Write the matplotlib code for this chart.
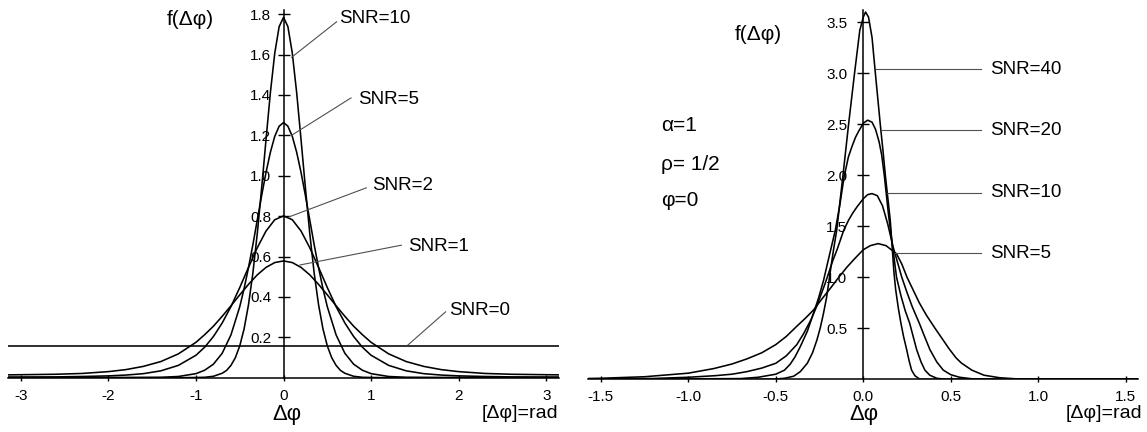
import numpy as np
import matplotlib.pyplot as plt

plt.rcParams["font.family"] = ["Liberation Sans", "DejaVu Sans"]

# ---- left panel: f(dphi) for several SNR values ----
x_snr10 = [-3.14, -1.2, -1.0, -0.9, -0.8, -0.7, -0.65, -0.6, -0.55, -0.5,
           -0.45, -0.4, -0.35, -0.3, -0.25, -0.2, -0.15, -0.1, -0.05, 0.0,
           0.05, 0.1, 0.15, 0.2, 0.25, 0.3, 0.35, 0.4, 0.45, 0.5,
           0.55, 0.6, 0.65, 0.7, 0.8, 0.9, 1.0, 1.2, 3.14]
f_snr10 = [0.0, 0.0, 0.001, 0.002, 0.007, 0.022, 0.036, 0.061, 0.099, 0.157,
           0.242, 0.361, 0.517, 0.712, 0.938, 1.178, 1.411, 1.607, 1.738, 1.784,
           1.738, 1.607, 1.411, 1.178, 0.938, 0.712, 0.517, 0.361, 0.242, 0.157,
           0.099, 0.061, 0.036, 0.022, 0.007, 0.002, 0.001, 0.0, 0.0]

x_snr5 = [-3.14, -1.8, -1.4, -1.2, -1.0, -0.9, -0.8, -0.7, -0.6, -0.5,
          -0.45, -0.4, -0.35, -0.3, -0.25, -0.2, -0.15, -0.1, -0.05, 0.0,
          0.05, 0.1, 0.15, 0.2, 0.25, 0.3, 0.35, 0.4, 0.45, 0.5,
          0.6, 0.7, 0.8, 0.9, 1.0, 1.2, 1.4, 1.8, 3.14]
f_snr5 = [0.001, 0.001, 0.002, 0.006, 0.020, 0.037, 0.067, 0.121, 0.212, 0.351,
          0.441, 0.545, 0.658, 0.780, 0.901, 1.016, 1.116, 1.195, 1.245, 1.263,
          1.245, 1.195, 1.116, 1.016, 0.901, 0.780, 0.658, 0.545, 0.441, 0.351,
          0.212, 0.121, 0.067, 0.037, 0.020, 0.006, 0.002, 0.001, 0.001]

x_wide = [-3.14, -2.6, -2.3, -2.0, -1.8, -1.6, -1.4, -1.2, -1.0, -0.9,
          -0.8, -0.7, -0.6, -0.5, -0.4, -0.3, -0.2, -0.1, 0.0,
          0.1, 0.2, 0.3, 0.4, 0.5, 0.6, 0.7, 0.8, 0.9, 1.0,
          1.2, 1.4, 1.6, 1.8, 2.0, 2.3, 2.6, 3.14]
f_snr2 = [0.003, 0.004, 0.006, 0.009, 0.013, 0.020, 0.034, 0.061, 0.111, 0.151,
          0.204, 0.271, 0.352, 0.446, 0.546, 0.643, 0.726, 0.782, 0.801,
          0.782, 0.726, 0.643, 0.546, 0.446, 0.352, 0.271, 0.204, 0.151, 0.111,
          0.061, 0.034, 0.020, 0.013, 0.009, 0.006, 0.004, 0.003]
f_snr1 = [0.014, 0.017, 0.021, 0.030, 0.040, 0.056, 0.080, 0.118, 0.175, 0.213,
          0.255, 0.304, 0.356, 0.410, 0.462, 0.509, 0.546, 0.570, 0.578,
          0.570, 0.546, 0.509, 0.462, 0.410, 0.356, 0.304, 0.255, 0.213, 0.175,
          0.118, 0.080, 0.056, 0.040, 0.030, 0.021, 0.017, 0.014]
f_snr0 = 0.159

left_labels = ["SNR=10", "SNR=5", "SNR=2", "SNR=1", "SNR=0"]
left_label_xy = [(0.64, 1.78), (0.85, 1.375), (1.01, 0.95), (1.42, 0.648), (1.89, 0.334)]
left_leader_from = [(0.092, 1.586), (0.092, 1.20), (0.063, 0.796), (0.187, 0.558), (1.42, 0.162)]
left_leader_to = [(0.606, 1.762), (0.77, 1.385), (0.945, 0.94), (1.345, 0.656), (1.85, 0.326)]

# ---- right panel: alpha=1, rho=1/2, phi=0 ----
x_r40 = [-1.57, -0.6, -0.5, -0.45, -0.398, -0.36, -0.32, -0.29, -0.265, -0.245,
         -0.227, -0.21, -0.198, -0.185, -0.17, -0.152, -0.116, -0.084, -0.05, -0.02,
         0.0, 0.013, 0.03, 0.05, 0.069, 0.083, 0.097, 0.112, 0.126, 0.14,
         0.154, 0.165, 0.175, 0.185, 0.2, 0.215, 0.23, 0.248, 0.262, 0.276,
         0.295, 0.324, 1.57]
f_r40 = [0.0, 0.0, 0.003, 0.01, 0.03, 0.075, 0.157, 0.26, 0.385, 0.51,
         0.65, 0.8, 0.94, 1.1, 1.27, 1.46, 2.0, 2.5, 3.0, 3.42,
         3.55, 3.6, 3.55, 3.35, 3.0, 2.75, 2.5, 2.25, 2.0, 1.78,
         1.56, 1.3, 1.05, 0.88, 0.7, 0.55, 0.42, 0.29, 0.18, 0.09,
         0.035, 0.0, 0.0]

x_r20 = [-1.57, -0.7, -0.6, -0.5, -0.45, -0.417, -0.39, -0.36, -0.32, -0.284,
         -0.255, -0.227, -0.2, -0.16, -0.135, -0.11, -0.085, -0.065, -0.045, -0.027,
         0.0, 0.025, 0.05, 0.07, 0.09, 0.105, 0.12, 0.145, 0.17, 0.19,
         0.215, 0.24, 0.265, 0.285, 0.305, 0.33, 0.352, 0.38, 0.42, 0.47, 1.57]
f_r20 = [0.0, 0.007, 0.02, 0.05, 0.09, 0.15, 0.22, 0.32, 0.47, 0.65,
         0.8, 0.97, 1.17, 1.46, 1.7, 1.98, 2.18, 2.28, 2.37, 2.43,
         2.51, 2.54, 2.52, 2.45, 2.33, 2.2, 2.0, 1.6, 1.27, 1.0,
         0.82, 0.67, 0.55, 0.42, 0.29, 0.17, 0.09, 0.04, 0.01, 0.0, 0.0]

x_r10 = [-1.57, -1.2, -1.0, -0.85, -0.75, -0.665, -0.58, -0.5, -0.44, -0.38,
         -0.34, -0.3, -0.27, -0.246, -0.22, -0.198, -0.175, -0.15, -0.13, -0.112,
         -0.084, -0.06, -0.036, 0.0, 0.025, 0.05, 0.08, 0.11, 0.14, 0.17,
         0.2, 0.22, 0.25, 0.28, 0.32, 0.35, 0.381, 0.42, 0.457, 0.5,
         0.55, 0.62, 0.7, 1.57]
f_r10 = [0.002, 0.008, 0.02, 0.035, 0.05, 0.075, 0.11, 0.157, 0.23, 0.34,
         0.45, 0.58, 0.7, 0.81, 0.93, 1.04, 1.16, 1.27, 1.37, 1.46,
         1.56, 1.63, 1.69, 1.77, 1.81, 1.82, 1.8, 1.7, 1.52, 1.3,
         1.12, 1.0, 0.85, 0.71, 0.55, 0.42, 0.29, 0.17, 0.09, 0.045,
         0.02, 0.005, 0.0, 0.0]

x_r5 = [-1.57, -1.5, -1.25, -1.0, -0.855, -0.75, -0.665, -0.58, -0.5, -0.44,
        -0.38, -0.33, -0.284, -0.24, -0.189, -0.14, -0.093, -0.045, 0.0, 0.04,
        0.085, 0.13, 0.19, 0.22, 0.25, 0.32, 0.36, 0.41, 0.45, 0.49,
        0.53, 0.56, 0.62, 0.69, 0.78, 0.87, 0.95, 1.57]
f_r5 = [0.008, 0.01, 0.025, 0.06, 0.105, 0.15, 0.2, 0.26, 0.34, 0.42,
        0.52, 0.6, 0.68, 0.78, 0.89, 1.0, 1.1, 1.19, 1.27, 1.31,
        1.33, 1.31, 1.23, 1.13, 1.0, 0.75, 0.63, 0.5, 0.4, 0.3,
        0.21, 0.16, 0.09, 0.04, 0.015, 0.005, 0.0, 0.0]

right_labels = ["SNR=40", "SNR=20", "SNR=10", "SNR=5"]
right_leader_y = [3.04, 2.44, 1.83, 1.235]
right_leader_x0 = [0.073, 0.10, 0.135, 0.18]
right_leader_x1 = 0.67
right_label_x = 0.725


def setup_axis(ax, xlim, ylim, y_top, xticks, xlabels, yticks, ylabels, ylen, ypad):
    ax.set_xlim(*xlim)
    ax.set_ylim(*ylim)
    ax.patch.set_visible(False)
    for side in ("top", "right"):
        ax.spines[side].set_visible(False)
    ax.spines["left"].set_position(("data", 0))
    ax.spines["bottom"].set_position(("data", 0))
    ax.spines["left"].set_bounds(0, y_top)
    for side in ("left", "bottom"):
        ax.spines[side].set_linewidth(1.1)
    ax.set_xticks(xticks, xlabels)
    ax.set_yticks(yticks, ylabels)
    ax.tick_params(axis="x", direction="inout", length=5, width=1, pad=5.5, labelsize=11)
    ax.tick_params(axis="y", direction="inout", length=ylen, width=1, pad=ypad, labelsize=11)


fig = plt.figure(figsize=(11.47, 4.32), dpi=100)
curve_kw = dict(color="black", lw=1.15)
leader_kw = dict(color="#505050", lw=0.8)

# left panel
ax1 = fig.add_axes([0.00724, 0.1257, 0.4799, 0.851])
setup_axis(ax1, (-np.pi, np.pi), (0, 1.82), 1.82,
           [-3, -2, -1, 0, 1, 2, 3], ["-3", "-2", "-1", "0", "1", "2", "3"],
           [0.2, 0.4, 0.6, 0.8, 1.0, 1.2, 1.4, 1.6, 1.8],
           ["0.2", "0.4", "0.6", "0.8", "1.0", "1.2", "1.4", "1.6", "1.8"], 8, 5)
ax1.plot(x_snr10, f_snr10, **curve_kw)
ax1.plot(x_snr5, f_snr5, **curve_kw)
ax1.plot(x_wide, f_snr2, **curve_kw)
ax1.plot(x_wide, f_snr1, **curve_kw)
ax1.axhline(f_snr0, **curve_kw)
for label, (tx, ty), (ax0, ay0), (ax_, ay_) in zip(left_labels, left_label_xy,
                                                   left_leader_from, left_leader_to):
    ax1.plot([ax0, ax_], [ay0, ay_], **leader_kw)
    ax1.text(tx, ty, label, fontsize=13.5, ha="left", va="center")
ax1.text(-1.06, 1.775, "f(Δφ)", fontsize=15, ha="center", va="center")

# right panel
ax2 = fig.add_axes([0.513, 0.122, 0.4793, 0.862])
setup_axis(ax2, (-np.pi / 2, np.pi / 2), (0, 3.65), 3.62,
           [-1.5, -1.0, -0.5, 0.0, 0.5, 1.0, 1.5],
           ["-1.5", "-1.0", "-0.5", "0.0", "0.5", "1.0", "1.5"],
           [0.5, 1.0, 1.5, 2.0, 2.5, 3.0, 3.5],
           ["0.5", "1.0", "1.5", "2.0", "2.5", "3.0", "3.5"], 9, 7)
ax2.plot(x_r40, f_r40, **curve_kw)
ax2.plot(x_r20, f_r20, **curve_kw)
ax2.plot(x_r10, f_r10, **curve_kw)
ax2.plot(x_r5, f_r5, **curve_kw)
for label, ly, lx0 in zip(right_labels, right_leader_y, right_leader_x0):
    ax2.plot([lx0, right_leader_x1], [ly, ly], **leader_kw)
    ax2.text(right_label_x, ly, label, fontsize=13.5, ha="left", va="center")
ax2.text(-0.6, 3.38, "f(Δφ)", fontsize=15, ha="center", va="center")
ax2.text(-1.156, 2.49, "α=1", fontsize=15, ha="left", va="center")
ax2.text(-1.156, 2.11, "ρ= 1/2", fontsize=15, ha="left", va="center")
ax2.text(-1.156, 1.75, "φ=0", fontsize=15, ha="left", va="center")

# axis captions under each panel
fig.text(0.250, 0.040, "Δφ", fontsize=16, ha="center", va="center")
fig.text(0.4865, 0.042, "[Δφ]=rad", fontsize=14, ha="right", va="center")
fig.text(0.7528, 0.040, "Δφ", fontsize=16, ha="center", va="center")
fig.text(0.9956, 0.042, "[Δφ]=rad", fontsize=14, ha="right", va="center")

fig.savefig("out.png", dpi=100)
